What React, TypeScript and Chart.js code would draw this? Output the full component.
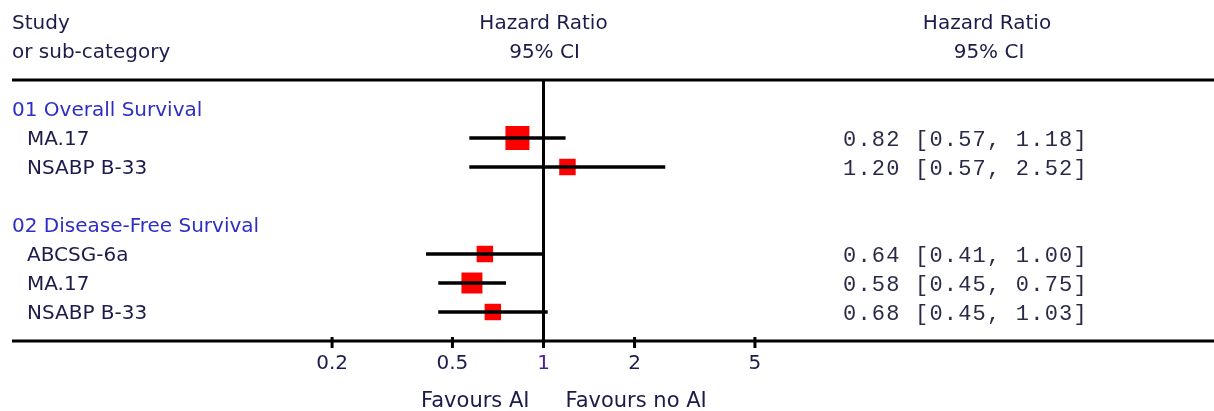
import React, { useEffect, useRef } from "react";
import { Chart, registerables } from "chart.js";

Chart.register(...registerables);

// ---- data ----
const groupNames = ["01 Overall Survival", "02 Disease-Free Survival"];
const groupRows = [0, 4];
const studyNames = ["MA.17", "NSABP B-33", "ABCSG-6a", "MA.17", "NSABP B-33"];
const studyRows = [1, 2, 5, 6, 7];
const hazardRatios = [0.82, 1.2, 0.64, 0.58, 0.68];
const ciLower = [0.57, 0.57, 0.41, 0.45, 0.45];
const ciUpper = [1.18, 2.52, 1.0, 0.75, 1.03];
const weights = [68, 32, 32, 52, 32];
const axisTicks = [0.2, 0.5, 1, 2, 5];
const axisTickLabels = ["0.2", "0.5", "1", "2", "5"];
const headerLeft = ["Study", "or sub-category"];
const headerMid = ["Hazard Ratio", "95% CI"];
const headerRight = ["Hazard Ratio", "95% CI"];
const favourLeft = "Favours AI";
const favourRight = "Favours no AI";

const W = 1214;
const H = 411;
const SANS = "'DejaVu Sans', sans-serif";
const MONO = "'Liberation Mono', monospace";
const TEXT = "#1c1c4c";
const GROUP = "#2e2ec4";

const fmt = (v: number) => v.toFixed(2);

export default function App() {
  const ref = useRef<HTMLCanvasElement>(null);

  useEffect(() => {
    const canvas = ref.current;
    if (!canvas) return;

    const forestPlugin = {
      id: "forestDecor",
      beforeDatasetsDraw(chart: any) {
        const { ctx, chartArea, scales } = chart;
        const xs = scales.x;
        const top = chartArea.top;
        const bottom = chartArea.bottom;
        ctx.save();
        ctx.strokeStyle = "#000";
        ctx.lineWidth = 3;
        ctx.beginPath();
        ctx.moveTo(12, top);
        ctx.lineTo(W, top);
        ctx.moveTo(12, bottom);
        ctx.lineTo(W, bottom);
        ctx.stroke();
        const x1 = xs.getPixelForValue(1);
        ctx.beginPath();
        ctx.moveTo(x1, top);
        ctx.lineTo(x1, bottom);
        ctx.stroke();
        // tick marks
        ctx.fillStyle = "#000";
        axisTicks.forEach((t) => {
          const px = xs.getPixelForValue(t);
          ctx.fillRect(px - 1.5, bottom - 4, 3, 11);
        });
        ctx.restore();
      },
      afterDatasetsDraw(chart: any) {
        const { ctx, chartArea, scales } = chart;
        const xs = scales.x;
        const ys = scales.y;
        const bottom = chartArea.bottom;
        const x1 = xs.getPixelForValue(1);
        ctx.save();
        ctx.textBaseline = "alphabetic";
        ctx.font = `20px ${SANS}`;
        ctx.fillStyle = TEXT;
        // headers
        ctx.textAlign = "left";
        ctx.fillText(headerLeft[0], 12, 29);
        ctx.fillText(headerLeft[1], 12, 58);
        ctx.textAlign = "center";
        ctx.fillText(headerMid[0], x1, 29);
        ctx.fillText(headerMid[1], x1 + 1, 58);
        ctx.fillText(headerRight[0], 987, 29);
        ctx.fillText(headerRight[1], 989, 58);
        // group names
        ctx.textAlign = "left";
        ctx.fillStyle = GROUP;
        groupNames.forEach((g, i) => {
          ctx.fillText(g, 12, ys.getPixelForValue(groupRows[i]) + 7);
        });
        // study names
        ctx.fillStyle = TEXT;
        studyNames.forEach((s, i) => {
          ctx.fillText(s, 27, ys.getPixelForValue(studyRows[i]) + 7);
        });
        // numeric column
        ctx.font = `22px ${MONO}`;
        (ctx as any).letterSpacing = "1.2px";
        ctx.fillStyle = "#2a2a48";
        studyNames.forEach((_, i) => {
          const txt = `${fmt(hazardRatios[i])} [${fmt(ciLower[i])}, ${fmt(ciUpper[i])}]`;
          ctx.fillText(txt, 843, ys.getPixelForValue(studyRows[i]) + 8);
        });
        (ctx as any).letterSpacing = "0px";
        // axis tick labels
        ctx.font = `20px ${SANS}`;
        ctx.textAlign = "center";
        axisTicks.forEach((t, i) => {
          ctx.fillStyle = t === 1 ? "#4a1c9c" : TEXT;
          ctx.fillText(axisTickLabels[i], xs.getPixelForValue(t), bottom + 28);
        });
        // favours labels
        ctx.font = `21px ${SANS}`;
        ctx.fillStyle = TEXT;
        ctx.textAlign = "right";
        ctx.fillText(favourLeft, x1 - 14, bottom + 66);
        ctx.textAlign = "left";
        ctx.fillText(favourRight, x1 + 22, bottom + 66);
        ctx.restore();
      },
    };

    const chart = new Chart(canvas, {
      type: "bar",
      data: {
        datasets: [
          {
            type: "bar",
            data: studyRows.map((r, i) => ({ x: [ciLower[i], ciUpper[i]], y: r })) as any,
            backgroundColor: "#000",
            borderWidth: 0,
            barThickness: 3,
            order: 0,
          } as any,
          {
            type: "scatter",
            data: studyRows.map((r, i) => ({ x: hazardRatios[i], y: r })),
            pointStyle: "rect",
            pointRadius: (c: any) => 2.058 * Math.sqrt(weights[c.dataIndex] || 0),
            backgroundColor: "#ff0000",
            borderWidth: 0,
            order: 1,
          } as any,
        ],
      },
      options: {
        indexAxis: "y",
        responsive: false,
        animation: false,
        events: [],
        layout: { padding: { left: 241, right: 368, top: 80, bottom: 70 } },
        plugins: { legend: { display: false }, tooltip: { enabled: false } },
        scales: {
          x: { type: "logarithmic", min: 0.1, max: 10, display: false, offset: false },
          y: { type: "linear", min: -1, max: 8, reverse: true, display: false, offset: false, grid: { offset: false } },
        },
      } as any,
      plugins: [forestPlugin],
    });

    return () => chart.destroy();
  }, []);

  return (
    <div style={{ position: "absolute", left: 0, top: 0, width: W, height: H, background: "#fff" }}>
      <canvas ref={ref} width={W} height={H} style={{ display: "block", width: W, height: H }} />
    </div>
  );
}
